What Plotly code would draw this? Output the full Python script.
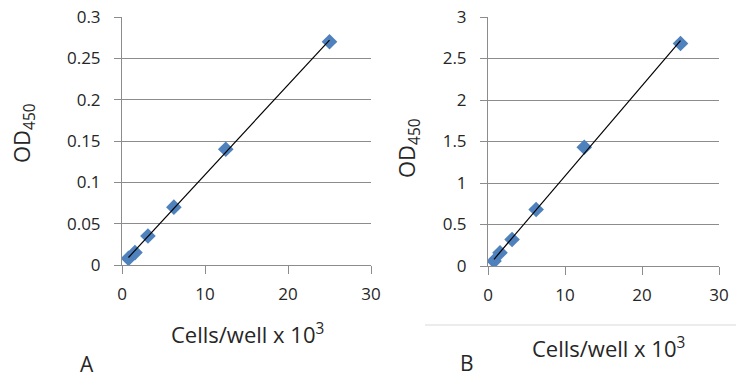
import numpy as np
import plotly.graph_objects as go

# Data
cells = [0.78, 1.56, 3.125, 6.25, 12.5, 25]
od_a = [0.008, 0.015, 0.035, 0.07, 0.14, 0.27]
od_b = [0.06, 0.16, 0.32, 0.68, 1.43, 2.68]
x_ticks = [0, 10, 20, 30]
ya_ticks = [0, 0.05, 0.1, 0.15, 0.2, 0.25, 0.3]
ya_labels = ["0", "0.05", "0.1", "0.15", "0.2", "0.25", "0.3"]
yb_ticks = [0, 0.5, 1, 1.5, 2, 2.5, 3]
yb_labels = ["0", "0.5", "1", "1.5", "2", "2.5", "3"]

# page body has an 8px margin: figure is drawn 8px in from the window edge
OFF = 8
W, H = 744 - 2 * OFF, 381 - 2 * OFF
FONT = "Open Sans"
TXT = "#262626"
GRID = "#8c8c8c"
BLUE = "#4F81BD"

def px(x):
    return (x - OFF) / W

def py(y):
    return 1 - (y - OFF) / H

fig = go.Figure()

def add_panel(xa, ya, y):
    fig.add_trace(go.Scatter(x=cells, y=y, mode="markers", xaxis=xa, yaxis=ya,
                             marker=dict(symbol="diamond", size=12, color=BLUE),
                             showlegend=False, hoverinfo="x+y"))
    k, b = np.polyfit(cells, y, 1)
    xs = [min(cells), max(cells)]
    fig.add_trace(go.Scatter(x=xs, y=[k * v + b for v in xs], mode="lines",
                             xaxis=xa, yaxis=ya, line=dict(color="black", width=1.2),
                             showlegend=False, hoverinfo="skip"))

add_panel("x", "y", od_a)
add_panel("x2", "y2", od_b)

xcommon = dict(range=[0, 30], tickvals=x_ticks, showgrid=False, zeroline=False,
               showline=True, linecolor=GRID, linewidth=1, ticks="outside",
               ticklen=8, tickcolor=GRID, tickfont=dict(family=FONT, size=17, color=TXT),
               ticklabelstandoff=6, ticklabeloverflow="allow",
               fixedrange=True, automargin=False)
ycommon = dict(showgrid=True, gridcolor=GRID, gridwidth=1, zeroline=False,
               showline=True, linecolor=GRID, linewidth=1, ticks="outside",
               ticklen=7, tickcolor=GRID, tickfont=dict(family=FONT, size=17, color=TXT),
               ticklabelstandoff=10, ticklabeloverflow="allow",
               fixedrange=True, automargin=False)

fig.update_layout(
    width=W, height=H,
    margin=dict(l=0, r=0, t=0, b=0, pad=0, autoexpand=False),
    paper_bgcolor="white", plot_bgcolor="white",
    xaxis=dict(domain=[px(122), px(371)], anchor="y", **xcommon),
    yaxis=dict(domain=[py(265), py(17)], anchor="x", range=[0, 0.3],
               tickvals=ya_ticks, ticktext=ya_labels, **ycommon),
    xaxis2=dict(domain=[px(488), px(719)], anchor="y2", **xcommon),
    yaxis2=dict(domain=[py(266), py(17)], anchor="x2", range=[0, 3],
                tickvals=yb_ticks, ticktext=yb_labels, **ycommon),
    font=dict(family=FONT, color=TXT),
)

def ann(text, x, y, size=22, angle=0):
    fig.add_annotation(text=text, x=px(x), y=py(y), xref="paper", yref="paper",
                       showarrow=False, textangle=angle, xanchor="center", yanchor="middle",
                       font=dict(family=FONT, size=size, color=TXT))

ann("Cells/well x 10<sup>3</sup>", 247, 333)
ann("Cells/well x 10<sup>3</sup>", 608, 347)
ann("OD<sub>450</sub>", 23, 133, angle=-90)
ann("OD<sub>450</sub>", 408, 148, angle=-90)
ann("A", 87, 364, size=21)
ann("B", 467, 363, size=21)

fig.add_shape(type="line", xref="paper", yref="paper",
              x0=px(425), x1=1, y0=py(325), y1=py(325),
              line=dict(color="#d9d9d9", width=1))

fig.write_html("out.html")
